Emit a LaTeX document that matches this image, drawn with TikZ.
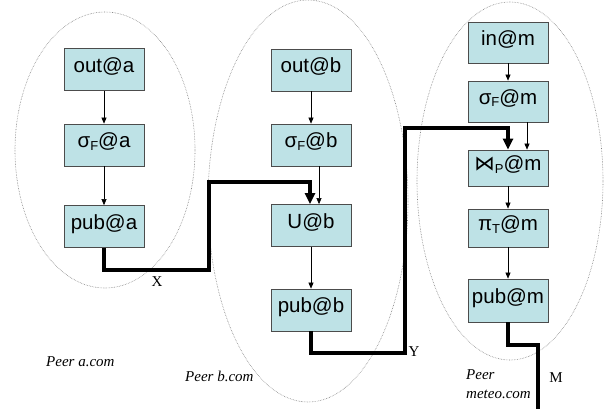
\documentclass[tikz,border=0pt]{standalone}
\usepackage{fontspec}
\setmainfont{Liberation Serif}
\newfontfamily\boxfont{Liberation Sans}
\newfontfamily\symfont{DejaVu Sans}
\usetikzlibrary{arrows.meta}
\definecolor{boxfill}{RGB}{190,226,230}
\newcommand{\sbs}[1]{\raisebox{-0.25ex}{\fontsize{13}{13}\selectfont #1}}
\begin{document}
\begin{tikzpicture}[x=1pt,y=-1pt,
  opbox/.style={draw=black!70, fill=boxfill, line width=0.8pt, minimum width=80pt, minimum height=42pt, inner sep=0pt, text height=5pt, text depth=0pt, font=\boxfont\fontsize{20.5}{22}\selectfont},
  peer/.style={draw=black!50, densely dotted, line width=0.6pt},
  thinarrow/.style={line width=0.6pt, -{Triangle[length=6pt,width=5pt]}},
  flow/.style={line width=3.5pt, -{Triangle[length=11pt,width=10pt]}},
  flowend/.style={line width=3.5pt},
  lbl/.style={font=\fontsize{15}{17}\selectfont, inner sep=0pt},
  peerlbl/.style={font=\itshape\fontsize{15}{19}\selectfont, inner sep=0pt, align=left}]
\useasboundingbox (0,0) rectangle (604,408);
% peers
\draw[peer] (105,150) ellipse [x radius=90, y radius=138];
\draw[peer] (308,201) ellipse [x radius=100, y radius=201];
\draw[peer] (510,181) ellipse [x radius=93, y radius=179];
% column a
\node[opbox] (oa) at (104,69.5) {out@a};
\node[opbox] (sa) at (104,145) {σ\sbs{F}@a};
\node[opbox] (pa) at (104,226.5) {pub@a};
% column b
\node[opbox] (ob) at (311,70) {out@b};
\node[opbox] (sb) at (311,145) {σ\sbs{F}@b};
\node[opbox] (ub) at (311,225.5) {U@b};
\node[opbox] (pb) at (311,310) {pub@b};
% column m
\node[opbox, minimum height=41pt] (im) at (508,42.5) {in@m};
\node[opbox, minimum height=41pt] (sm) at (508,101.5) {σ\sbs{F}@m};
\node[opbox, minimum height=36pt] (jm) at (508,168) {{\symfont ⋈}\sbs{P}@m};
\node[opbox, minimum height=38pt] (tm) at (508,228) {π\sbs{T}@m};
\node[opbox, minimum height=43pt] (pm) at (508,300.5) {pub@m};
% thin arrows
\draw[thinarrow] (oa) -- (sa);
\draw[thinarrow] (sa) -- (pa);
\draw[thinarrow] (ob) -- (sb);
\draw[thinarrow] ([xshift=8pt]sb.south) -- ([xshift=8pt]ub.north);
\draw[thinarrow] (ub) -- (pb);
\draw[thinarrow] (im) -- (sm);
\draw[thinarrow] ([xshift=19pt]sm.south) -- ([xshift=19pt]jm.north);
\draw[thinarrow] (jm) -- (tm);
\draw[thinarrow] (tm) -- (pm);
% flows
\coordinate (x1) at (209,270);
\coordinate (x2) at (310,182);
\draw[flow] (pa.south) |- (x1) |- (x2) -- (x2 |- ub.north);
\coordinate (y1) at (405,353);
\coordinate (y2) at (508,128);
\draw[flow] (pb.south) |- (y1) |- (y2) -- (y2 |- jm.north);
\coordinate (m1) at (538,345);
\coordinate (m2) at (538,410);
\draw[flowend] (pm.south) |- (m1) -- (m2);
% labels
\node[lbl] (lx) at (157,282) {X};
\node[lbl] (ly) at (414,352) {Y};
\node[lbl] (lm) at (556,378) {M};
\node[peerlbl, anchor=west] (pla) at (46,362) {Peer a.com};
\node[peerlbl, anchor=west] (plb) at (185,376) {Peer b.com};
\node[peerlbl, anchor=north west] (plm) at (466,369) {Peer\\meteo.com};
\end{tikzpicture}
\end{document}
